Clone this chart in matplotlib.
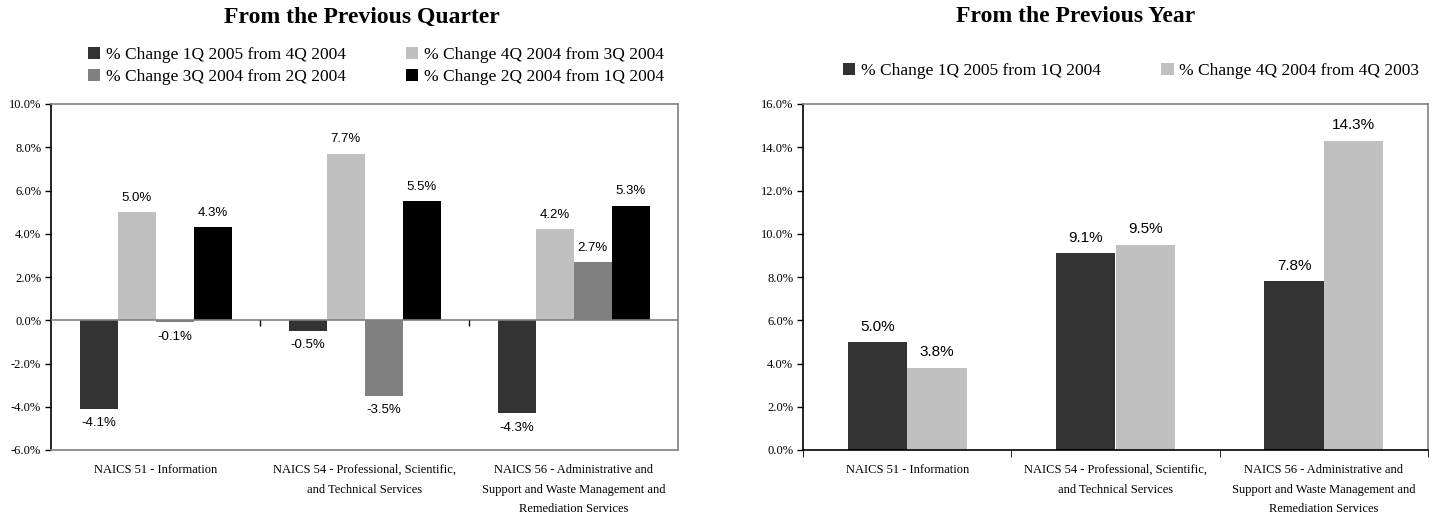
import matplotlib.pyplot as plt
import numpy as np

categories = [
    'NAICS 51 - Information',
    'NAICS 54 - Professional, Scientific,\nand Technical Services',
    'NAICS 56 - Administrative and\nSupport and Waste Management and\nRemediation Services',
]

# From the previous quarter (percent)
q_labels = ['% Change 1Q 2005 from 4Q 2004', '% Change 4Q 2004 from 3Q 2004',
            '% Change 3Q 2004 from 2Q 2004', '% Change 2Q 2004 from 1Q 2004']
q_1q05_4q04 = [-4.1, -0.5, -4.3]
q_4q04_3q04 = [5.0, 7.7, 4.2]
q_3q04_2q04 = [-0.1, -3.5, 2.7]
q_2q04_1q04 = [4.3, 5.5, 5.3]
q_colors = ['#333333', '#C0C0C0', '#808080', '#000000']

# From the previous year (percent)
y_labels = ['% Change 1Q 2005 from 1Q 2004', '% Change 4Q 2004 from 4Q 2003']
y_1q05_1q04 = [5.0, 9.1, 7.8]
y_4q04_4q03 = [3.8, 9.5, 14.3]
y_colors = ['#333333', '#C0C0C0']

SERIF = 'Liberation Serif'
SANS = 'Liberation Sans'


def grouped_bars(ax, series, colors, label_size):
    """Draws grouped bars Excel-style (gap width 150%) with value labels."""
    n = len(series)
    width = 1.0 / (n + 1.5)
    x = np.arange(len(categories))
    bars = []
    for j, (vals, col) in enumerate(zip(series, colors)):
        pos = x + (j - (n - 1) / 2) * width
        b = ax.bar(pos, vals, width, color=col, edgecolor='none', zorder=2)
        bars.append(b)
        for rect, v in zip(b, vals):
            off = 6 if v >= 0 else -6
            ax.annotate(f'{v:.1f}%', (rect.get_x() + rect.get_width() / 2, v),
                        xytext=(0, off), textcoords='offset points',
                        ha='center', va='bottom' if v >= 0 else 'top',
                        fontsize=label_size, family=SANS)
    ax.set_xlim(-0.5, len(categories) - 0.5)
    ax.set_xticks(x)
    ax.set_xticklabels(categories, family=SERIF, fontsize=9, linespacing=1.85)
    ax.tick_params(axis='x', length=0, pad=10)
    ax.yaxis.set_major_formatter(plt.FuncFormatter(lambda v, p: f'{v:.1f}%'))
    for t in ax.get_yticklabels():
        t.set_family(SERIF)
    ax.tick_params(axis='y', labelsize=9, length=4, direction='out', width=1, pad=3)
    ax.spines['left'].set_color('black')
    ax.spines['left'].set_linewidth(1.2)
    for s in ['top', 'right', 'bottom']:
        ax.spines[s].set_color('#808080')
        ax.spines[s].set_linewidth(1.2)
    return bars


fig = plt.figure(figsize=(14.34, 5.18), dpi=100)

# Left chart
ax1 = fig.add_axes([51 / 1434, 1 - 450 / 518, 627 / 1434, 346 / 518])
bars1 = grouped_bars(ax1, [q_1q05_4q04, q_4q04_3q04, q_3q04_2q04, q_2q04_1q04],
                     q_colors, 9.5)
ax1.set_ylim(-6, 10)
ax1.set_yticks(np.arange(-6, 10.1, 2))
ax1.axhline(0, color='#808080', lw=1.2, zorder=3)
bounds = np.arange(len(categories) - 1) + 0.5
ax1.vlines(bounds, -0.25, 0, color='black', lw=1, zorder=3)
handles = [bars1[0], bars1[2], bars1[1], bars1[3]]
labels = [q_labels[0], q_labels[2], q_labels[1], q_labels[3]]
fig.legend(handles, labels, ncol=2, loc='center', bbox_to_anchor=(376 / 1434, 1 - 66 / 518),
           frameon=False, prop={'family': SERIF, 'size': 12.5}, handlelength=0.7,
           handleheight=0.7, handletextpad=0.3, columnspacing=3.5, labelspacing=0.35)
fig.text(362 / 1434, 1 - 17 / 518, 'From the Previous Quarter', ha='center', va='center',
         family=SERIF, fontweight='bold', fontsize=17)

# Right chart
ax2 = fig.add_axes([803 / 1434, 1 - 450 / 518, 625 / 1434, 346 / 518])
bars2 = grouped_bars(ax2, [y_1q05_1q04, y_4q04_4q03], y_colors, 11)
ax2.set_ylim(0, 16)
ax2.set_yticks(np.arange(0, 16.1, 2))
ax2.set_xticks(np.arange(len(categories) + 1) - 0.5, minor=True)
ax2.tick_params(axis='x', which='minor', length=5, direction='out', color='black')
ax2.spines['bottom'].set_color('black')
fig.legend([bars2[0], bars2[1]], y_labels, ncol=2, loc='center',
           bbox_to_anchor=(1131 / 1434, 1 - 71 / 518), frameon=False,
           prop={'family': SERIF, 'size': 12.5}, handlelength=0.7, handleheight=0.7,
           handletextpad=0.3, columnspacing=3.5)
fig.text(1076 / 1434, 1 - 17 / 518, 'From the Previous Year', ha='center', va='center',
         family=SERIF, fontweight='bold', fontsize=17)

fig.savefig('out.png', dpi=100)
